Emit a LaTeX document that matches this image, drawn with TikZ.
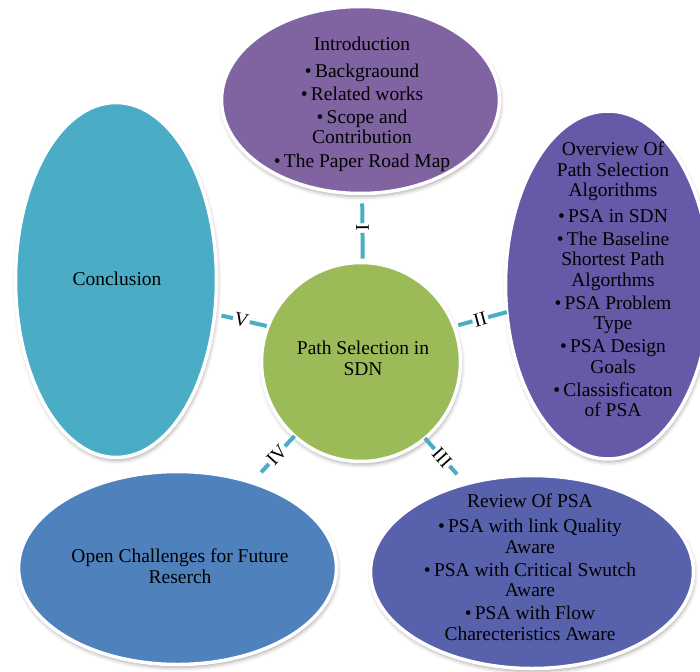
\documentclass[tikz,border=0pt]{standalone}
\usepackage{fontspec}
\setmainfont{Liberation Serif}
\usetikzlibrary{shapes.geometric,shadows.blur}

\definecolor{introfill}{HTML}{8064A2}
\definecolor{overfill}{HTML}{6859A8}
\definecolor{reviewfill}{HTML}{5862AC}
\definecolor{openfill}{HTML}{4F81BD}
\definecolor{conclfill}{HTML}{4BACC6}
\definecolor{hubfill}{HTML}{9BBB59}
\definecolor{linkcol}{HTML}{4BACC6}

\tikzset{
  softshadow/.style={blur shadow={shadow xshift=1pt, shadow yshift=-3pt,
      shadow blur radius=4pt, shadow opacity=35}},
  bubble/.style={ellipse, draw=white, line width=3.5pt, outer sep=0pt,
      inner sep=0pt, softshadow},
  hubdisc/.style={circle, draw=white, line width=3.5pt, outer sep=0pt,
      inner sep=0pt, softshadow},
  % anchored at the baseline of the last line
  caption/.style={align=center, anchor=base, inner sep=0pt, text=black,
      font=\fontsize{19.5}{20.5}\selectfont},
  link/.style={draw=linkcol, line width=4pt},
  numeral/.style={fill=white, inner sep=1.5pt, sloped, text=black,
      font=\fontsize{19.5}{20.5}\selectfont}
}

\begin{document}
\begin{tikzpicture}[x=1pt, y=-1pt]
\useasboundingbox (0,0) rectangle (700,671);
\clip (0,0) rectangle (700,671);

% satellite topics
\node[bubble, fill=introfill, minimum width=278pt, minimum height=187pt]
  (intro) at (360.5,100) {};
\node[bubble, fill=overfill, minimum width=205pt, minimum height=348pt]
  (overview) at (608,285) {};
\node[bubble, fill=reviewfill, minimum width=323pt, minimum height=193pt]
  (review) at (532,572) {};
\node[bubble, fill=openfill, minimum width=318pt, minimum height=193pt]
  (open) at (177.5,568) {};
\node[bubble, fill=conclfill, minimum width=201pt, minimum height=355pt]
  (concl) at (116,280) {};

% central topic
\node[hubdisc, fill=hubfill, minimum size=199pt] (hub) at (361,362) {};

% texts
\node[caption] (introtxt) at (362,167) {Introduction\\[6pt]
  •\,Backgraound\\[2.5pt]
  •\,Related works\\[2.5pt]
  •\,Scope and\\ Contribution\\[2.5pt]
  •\,The Paper Road Map};
\node[caption] (overtxt) at (613,416.7) {Overview Of\\ Path Selection\\ Algorithms\\[5pt]
  •\,PSA in SDN\\[2.5pt]
  •\,The Baseline\\ Shortest Path\\ Algorthms\\[2.5pt]
  •\,PSA Problem\\ Type\\[2.5pt]
  •\,PSA Design\\ Goals\\[2.5pt]
  •\,Classisficaton\\ of PSA};
\node[caption] (reviewtxt) at (530,640) {Review Of PSA\\[5pt]
  •\,PSA with link Quality\\ Aware\\[2.5pt]
  •\,PSA with Critical Swutch\\ Aware\\[2.5pt]
  •\,PSA with Flow\\ Charecteristics Aware};
\node[caption] (opentxt) at (180,583.3) {Open Challenges for Future\\ Reserch};
\node[caption] (concltxt) at (117,285) {Conclusion};
\node[caption] (hubtxt) at (363,375) {Path Selection in\\ SDN};

% connectors with roman numerals
\draw[link, shorten <=4pt, shorten >=10pt] (hub.89) -- node[numeral] {I} (intro.271);
\draw[link, shorten <=4.5pt] (hub.21) -- node[numeral] {II} (overview.195);
\draw[link, shorten >=13pt] (hub.310) -- node[numeral, pos=0.42] {III} (review.127);
\draw[link, shorten >=14pt] (hub.228) -- node[numeral, pos=0.41] {IV} (open.49);
\draw[link, shorten <=1.5pt, shorten >=7pt] (hub.159) -- node[numeral] {V} (concl.341);
\end{tikzpicture}
\end{document}
